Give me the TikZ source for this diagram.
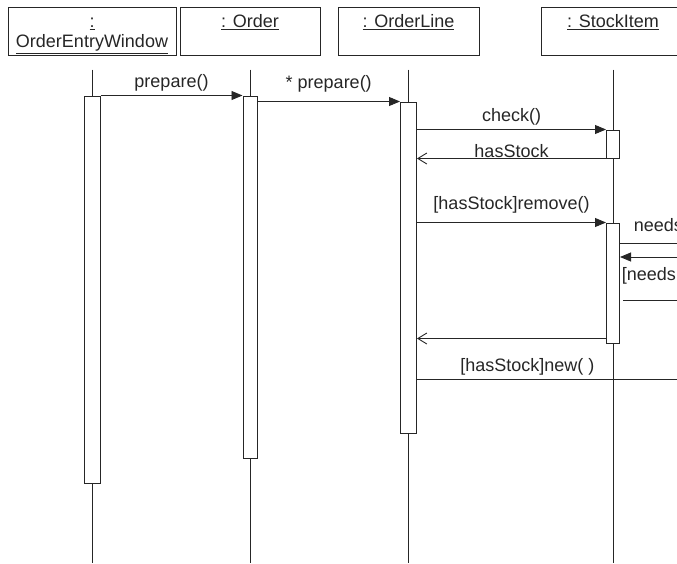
\documentclass[tikz,border=0pt]{standalone}
\usepackage{fontspec}
\setmainfont{Liberation Sans}
\usetikzlibrary{arrows.meta, positioning}

\begin{document}
\begin{tikzpicture}[x=1pt, y=-1pt, font=\fontsize{18}{20}\selectfont, text=black!85,
    objbox/.style={draw=black!85, line width=1pt, minimum height=48pt, inner sep=0pt},
    objname/.style={anchor=north, align=center, inner sep=0pt, yshift=-7pt},
    life/.style={draw=black!85, line width=0.9pt},
    act/.style={draw=black!85, line width=1pt, fill=white, inner sep=0pt},
    call/.style={draw=black!85, line width=0.9pt, -{Triangle[length=11pt, width=9pt]}},
    reply/.style={draw=black!85, line width=0.9pt, -{Straight Barb[length=9pt, width=11pt]}}]
    \useasboundingbox (0,0) rectangle (677,563);
    \clip (0,0) rectangle (677,563);

    \node[objbox, minimum width=168pt, label={[objname]north:{\strut\underline{:}\\\underline{OrderEntryWindow}}}] (oew) at (92,31) {};
    \node[objbox, minimum width=140pt, label={[objname]north:{\strut\underline{: Order}}}] (ord) at (250,31) {};
    \node[objbox, minimum width=141pt, label={[objname]north:{\strut\underline{: OrderLine}}}] (ol) at (408.5,31) {};
    \node[objbox, minimum width=144pt, label={[objname]north:{\strut\underline{: StockItem}}}] (si) at (613,31) {};

    \coordinate (bot) at (0,563);
    \foreach \o in {oew, ord, ol, si}
        \draw[life] (\o.south) ++(0,14) -- (\o.south |- bot);

    \node[act, minimum width=16pt, minimum height=387pt, below=40pt of oew] (oewact) {};
    \node[act, minimum width=14pt, minimum height=362pt, below=40pt of ord] (ordact) {};
    \node[act, minimum width=16pt, minimum height=331pt, below=46pt of ol] (olact) {};
    \node[act, minimum width=13pt, minimum height=28pt, below=74pt of si] (siact) {};
    \node[act, minimum width=13pt, minimum height=120pt, below=167pt of si] (siact2) {};

    \coordinate (out1) at (700,243);
    \coordinate (in1) at (700,257);
    \coordinate (out2) at (700,300);
    \coordinate (new1) at (700,379);
    \coordinate[above=5pt of siact2.south west] (ret2);

    \draw[call] (oewact.north east) -- node[above] {prepare()} (ordact.north west);
    \draw[call] (ordact.east |- olact.north) -- node[above=5pt] {* prepare()} (olact.north west);
    \draw[call] (olact.east |- siact.north) -- node[above] {check()} (siact.north west);
    \draw[reply] (siact.south west) -- node[above, inner sep=0pt] {hasStock} (olact.east |- siact.south);
    \draw[call] (olact.east |- siact2.north) -- node[above=5pt] {[hasStock]remove()} (siact2.north west);
    \draw[call] (siact2.east |- out1) -- node[pos=0, anchor=south west, xshift=10pt, yshift=8pt] {needs} (out1);
    \draw[call] (in1) -- (siact2.east |- in1);
    \draw[call, shorten <=3pt] (siact2.east |- out2) -- node[pos=0, anchor=south west, xshift=-2pt, yshift=12pt] {[needs} (out2);
    \draw[reply] (ret2) -- (olact.east |- ret2);
    \draw[call] (olact.east |- new1) -- node[pos=0.39, above] {[hasStock]new( )} (new1);
\end{tikzpicture}
\end{document}
